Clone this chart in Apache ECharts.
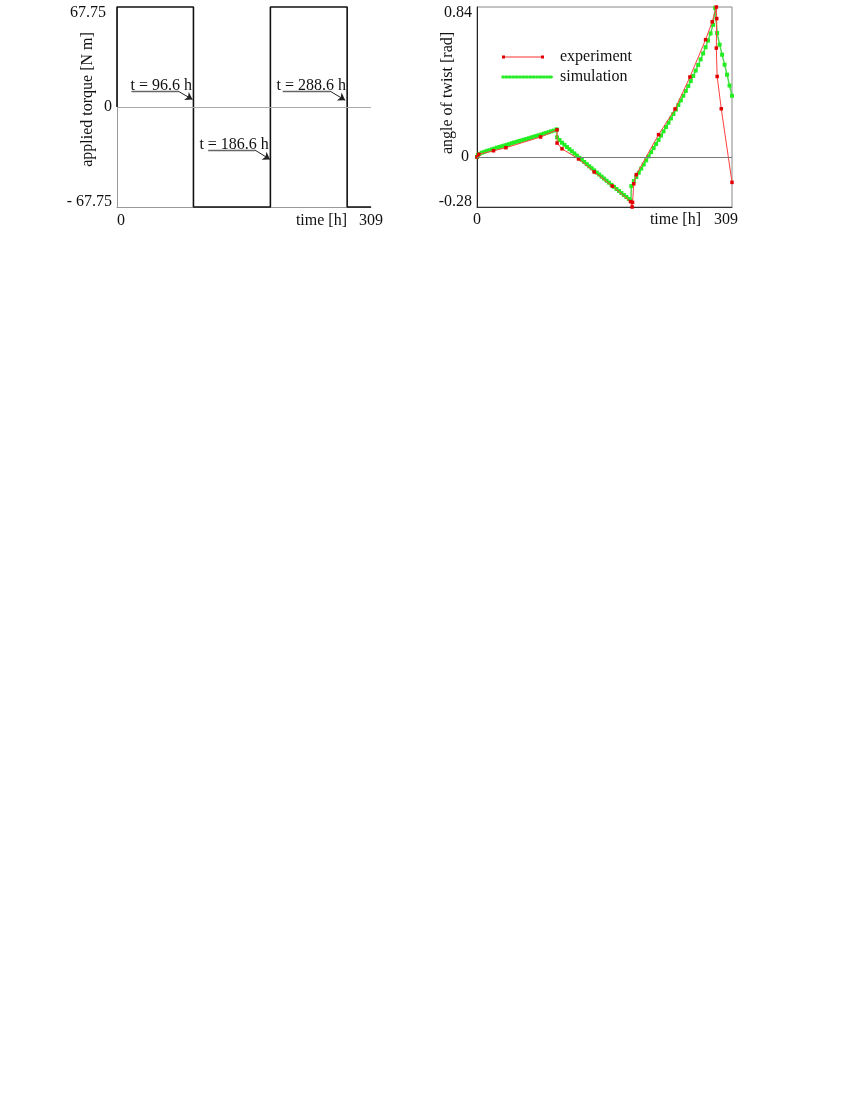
<!DOCTYPE html>
<html>
<head>
<meta charset="utf-8">
<script src="https://cdn.jsdelivr.net/npm/echarts@6/dist/echarts.min.js"></script>
<style>
  html, body { margin: 0; padding: 0; background: #fff; }
  #chart { width: 850px; height: 1100px; }
</style>
</head>
<body>
<div id="chart"></div>
<script>
// left panel: applied torque (square wave)
var torqueTime  = [0, 0, 93, 93, 186.6, 186.6, 280, 280, 309];
var torqueValue = [0, 67.75, 67.75, -67.75, -67.75, 67.75, 67.75, -67.75, -67.75];
var torqueTicks = [-67.75, 0, 67.75];
var timeTicks   = [0, 309];

// right panel: experiment
var expTime  = [0, 2, 20, 35, 77, 97, 97, 103, 123, 142, 164, 186, 188, 188.5, 190, 193,
                220, 240, 258, 277, 285, 290, 290.5, 290, 291, 296, 309];
var expAngle = [0, 0.015, 0.035, 0.052, 0.112, 0.152, 0.078, 0.046, -0.011, -0.084, -0.163, -0.25, -0.28, -0.254, -0.15, -0.099,
                0.125, 0.269, 0.448, 0.657, 0.757, 0.84, 0.775, 0.61, 0.451, 0.27, -0.142];

// right panel: simulation
var simTime  = [0, 1, 3, 6, 9, 12, 15, 18, 21, 24, 27, 30, 33, 36, 39, 42, 45, 48, 51, 54, 57, 60, 63, 66, 69, 72, 75, 78, 81, 84, 87, 90, 93, 96.6,
                97, 100, 103, 106, 109, 112, 115, 118, 121, 124, 127, 130, 133, 136, 139, 142, 145, 148, 151, 154, 157, 160, 163, 166, 169, 172, 175, 178, 181, 184, 186.6,
                187, 190, 193, 196, 199, 202, 205, 208, 211, 214, 217, 220, 223, 226, 229, 232, 235, 238, 241, 244, 247, 250, 253, 256, 259, 262, 265, 268, 271, 274, 277, 280, 283, 286, 288.6,
                291, 294, 297, 300, 303, 306, 309];
var simAngle = [0, 0.010, 0.018, 0.024, 0.029, 0.034, 0.038, 0.043, 0.047, 0.052, 0.056, 0.060, 0.064, 0.068, 0.072, 0.077, 0.081, 0.085, 0.089, 0.093, 0.097, 0.101, 0.105, 0.110, 0.114, 0.118, 0.122, 0.126, 0.131, 0.135, 0.139, 0.144, 0.148, 0.155,
                0.110, 0.095, 0.080, 0.068, 0.056, 0.044, 0.032, 0.020, 0.008, -0.004, -0.016, -0.028, -0.040, -0.052, -0.063, -0.075, -0.087, -0.098, -0.110, -0.121, -0.133, -0.144, -0.156, -0.167, -0.179, -0.190, -0.202, -0.213, -0.224, -0.235, -0.245,
                -0.163, -0.135, -0.112, -0.088, -0.065, -0.042, -0.019, 0.004, 0.027, 0.050, 0.073, 0.096, 0.120, 0.144, 0.168, 0.192, 0.216, 0.241, 0.266, 0.291, 0.317, 0.343, 0.370, 0.397, 0.425, 0.454, 0.484, 0.515, 0.547, 0.580, 0.615, 0.652, 0.692, 0.740, 0.835,
                0.694, 0.629, 0.573, 0.517, 0.461, 0.400, 0.343];
var angleTicks = [-0.28, 0, 0.84];

var seriesNames = ['experiment', 'simulation'];

function pairs(xs, ys) {
  var out = [];
  for (var i = 0; i < xs.length; i++) out.push([xs[i], ys[i]]);
  return out;
}

var font = 'Liberation Serif';

// switch events annotations (text, underline, arrow) in data units
var notes = [
  { text: 't = 96.6 h',  tx: 53.8,  ty: 14.5,  u0: 17.6,  u1: 74.4,  uy: 10.7,  ax: 91.9,  ay: 5.1 },
  { text: 't = 186.6 h', tx: 142.5, ty: -25.4, u0: 110.9, u1: 167.9, uy: -29.2, ax: 186.1, ay: -35.5 },
  { text: 't = 288.6 h', tx: 236.4, ty: 14.5,  u0: 201.6, u1: 259.3, uy: 10.7,  ax: 277.6, ay: 4.6 }
];
var noteLines = [], notePoints = [];
notes.forEach(function (n) {
  noteLines.push([{ coord: [n.u0, n.uy], symbol: 'none', lineStyle: { color: '#666', width: 1.4 } },
                  { coord: [n.u1, n.uy], symbol: 'none' }]);
  noteLines.push([{ coord: [n.u1, n.uy], symbol: 'none', lineStyle: { color: '#222', width: 1 } },
                  { coord: [n.ax, n.ay], symbol: 'arrow', symbolSize: 7 }]);
  notePoints.push({ coord: [n.tx, n.ty], value: n.text });
});

var rich = {
  t: { fontFamily: font, fontSize: 16, color: '#111', padding: [12, 0, 0, 0] },
  m: { fontFamily: font, fontSize: 16, color: '#111' },
  b: { fontFamily: font, fontSize: 16, color: '#111', padding: [0, 0, 10, 0] }
};

// legend drawn by hand (line with squares)
var legendKids = [];
legendKids.push({ type: 'line', shape: { x1: 503, y1: 57, x2: 543, y2: 57 }, style: { stroke: '#ff3030', lineWidth: 1 } });
legendKids.push({ type: 'rect', shape: { x: 502, y: 55.5, width: 3, height: 3 }, style: { fill: '#e00000' } });
legendKids.push({ type: 'rect', shape: { x: 541, y: 55.5, width: 3, height: 3 }, style: { fill: '#e00000' } });
legendKids.push({ type: 'text', x: 560, y: 57, style: { text: seriesNames[0], fontFamily: font, fontSize: 16, fill: '#111', verticalAlign: 'middle' } });
legendKids.push({ type: 'line', shape: { x1: 503, y1: 77, x2: 553, y2: 77 }, style: { stroke: '#30d030', lineWidth: 1.5 } });
for (var k = 503; k <= 553; k += 3.4) {
  legendKids.push({ type: 'rect', shape: { x: k - 1.5, y: 75.5, width: 3, height: 3 }, style: { fill: '#22ee22' } });
}
legendKids.push({ type: 'text', x: 560, y: 77, style: { text: seriesNames[1], fontFamily: font, fontSize: 16, fill: '#111', verticalAlign: 'middle' } });

var myChart = echarts.init(document.getElementById('chart'), null, { renderer: 'canvas' });

var option = {
  backgroundColor: '#fff',
  animation: false,
  textStyle: { fontFamily: font },
  grid: [
    { left: 117, top: 7, width: 254, height: 200, show: false },
    { left: 477, top: 7, width: 255, height: 200, show: true, borderColor: '#888', borderWidth: 1 }
  ],
  xAxis: [
    {
      gridIndex: 0, type: 'value', min: 0, max: 309,
      name: 'time [h]', nameLocation: 'end', nameGap: -24, nameMoveOverlap: false,
      nameTextStyle: { fontFamily: font, fontSize: 16, color: '#111', align: 'right', verticalAlign: 'top', padding: [6, 0, 0, 0] },
      axisLine: { show: true, onZero: false, lineStyle: { color: '#999', width: 1 } },
      axisTick: { show: false },
      splitLine: { show: false },
      axisLabel: { customValues: timeTicks, margin: 6, fontFamily: font, fontSize: 16, color: '#111',
                   formatter: function (v) { return v === 0 ? '  0' : String(v); } }
    },
    {
      gridIndex: 1, type: 'value', min: 0, max: 309,
      name: 'time [h]', nameLocation: 'end', nameGap: -31, nameMoveOverlap: false,
      nameTextStyle: { fontFamily: font, fontSize: 16, color: '#111', align: 'right', verticalAlign: 'top', padding: [5, 0, 0, 0] },
      axisLine: { show: true, onZero: false, lineStyle: { color: '#333', width: 1 } },
      axisTick: { show: false },
      splitLine: { show: false },
      axisLabel: { customValues: timeTicks, margin: 5, fontFamily: font, fontSize: 16, color: '#111',
                   formatter: function (v) { return v === 309 ? '309   ' : String(v); } }
    }
  ],
  yAxis: [
    {
      gridIndex: 0, type: 'value', min: -67.75, max: 67.75,
      name: 'applied torque [N m]', nameLocation: 'middle', nameGap: 21, nameMoveOverlap: false,
      nameTextStyle: { fontFamily: font, fontSize: 16, color: '#111', padding: [0, 0, 0, 15] },
      axisLine: { show: true, lineStyle: { color: '#999', width: 1 } },
      axisTick: { show: false },
      splitLine: { show: false },
      axisLabel: {
        customValues: torqueTicks, margin: 5, rich: rich,
        formatter: function (v) {
          if (v === -67.75) return '{b|- 67.75}';
          if (v === 67.75) return '{t|67.75}  ';
          return '{m|0}';
        }
      }
    },
    {
      gridIndex: 1, type: 'value', min: -0.28, max: 0.84,
      name: 'angle of twist [rad]', nameLocation: 'middle', nameGap: 21, nameMoveOverlap: false,
      nameTextStyle: { fontFamily: font, fontSize: 16, color: '#111', padding: [0, 0, 0, 28] },
      axisLine: { show: true, lineStyle: { color: '#222', width: 1 } },
      axisTick: { show: false },
      splitLine: { show: false },
      axisLabel: {
        customValues: angleTicks, margin: 5, rich: rich,
        formatter: function (v) {
          if (v === 0.84) return '{t|0.84}';
          if (v === -0.28) return '{b|-0.28}';
          return '{m|0} ';
        }
      }
    }
  ],
  series: [
    {
      name: 'applied torque', type: 'line', xAxisIndex: 0, yAxisIndex: 0,
      data: pairs(torqueTime, torqueValue),
      showSymbol: false, clip: false, z: 3,
      lineStyle: { color: '#111', width: 1.6 },
      markLine: {
        silent: true, symbol: 'none', animation: false,
        lineStyle: { type: 'solid' },
        label: { show: false },
        data: [[{ coord: [0, 0], symbol: 'none', lineStyle: { color: '#aaa', width: 1 } }, { coord: [309, 0], symbol: 'none' }]].concat(noteLines)
      },
      markPoint: {
        silent: true, symbol: 'rect', symbolSize: 0,
        label: { show: true, position: 'inside', formatter: '{c}', fontFamily: font, fontSize: 16, color: '#111' },
        data: notePoints
      }
    },
    {
      name: seriesNames[1], type: 'line', xAxisIndex: 1, yAxisIndex: 1,
      data: pairs(simTime, simAngle),
      symbol: 'rect', symbolSize: 4, showAllSymbol: true, clip: false, z: 3,
      itemStyle: { color: '#22ee22' },
      lineStyle: { color: '#50d850', width: 1.5 },
      markLine: {
        silent: true, symbol: 'none',
        lineStyle: { color: '#777', width: 1, type: 'solid' },
        label: { show: false },
        data: [{ yAxis: 0 }]
      }
    },
    {
      name: seriesNames[0], type: 'line', xAxisIndex: 1, yAxisIndex: 1,
      data: pairs(expTime, expAngle),
      symbol: 'rect', symbolSize: 3.5, showAllSymbol: true, clip: false, z: 4,
      itemStyle: { color: '#e00000' },
      lineStyle: { color: '#ff4040', width: 1 }
    }
  ],
  graphic: [{ type: 'group', left: 0, top: 0, bounding: 'raw', children: legendKids }]
};

myChart.setOption(option);
</script>
</body>
</html>
